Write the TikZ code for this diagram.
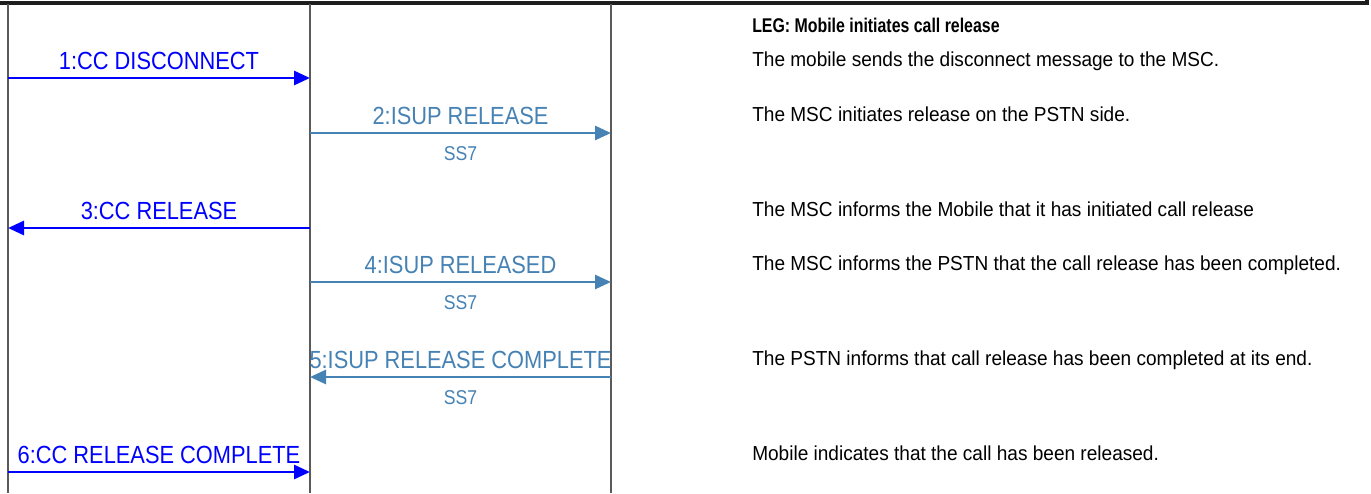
\documentclass[tikz,border=0pt]{standalone}
\usepackage{fontspec}
\setmainfont[FakeStretch=0.88]{Liberation Sans}
\newfontfamily\notefont[FakeStretch=0.94]{Liberation Sans}
\newfontfamily\headfont[FakeStretch=0.80]{Liberation Sans}
\usetikzlibrary{arrows.meta}
\definecolor{ccblue}{RGB}{0,0,255}
\definecolor{ssblue}{RGB}{70,130,180}
\definecolor{lifegray}{RGB}{90,90,90}
\definecolor{topline}{RGB}{30,30,30}
\tikzset{
  lifeline/.style={draw=lifegray, line width=1.1pt},
  ccmsg/.style={draw=ccblue, line width=2.2pt, -{Triangle[length=12pt,width=10.5pt]}},
  ssmsg/.style={draw=ssblue, line width=2pt, -{Triangle[length=12pt,width=10.5pt]}},
  cclabel/.style={anchor=base, inner sep=0pt, text=ccblue, font=\fontsize{18.6pt}{20pt}\selectfont},
  sslabel/.style={anchor=base, inner sep=0pt, text=ssblue, font=\fontsize{18.6pt}{20pt}\selectfont},
  ss7label/.style={anchor=base, inner sep=0pt, text=ssblue, font=\fontsize{15pt}{17pt}\selectfont},
  note/.style={anchor=base west, inner sep=0pt, text=black, font=\notefont\fontsize{15.2pt}{17pt}\selectfont},
  notehead/.style={anchor=base west, inner sep=0pt, text=black, font=\headfont\fontsize{14.9pt}{16pt}\selectfont\bfseries},
}
\begin{document}
\begin{tikzpicture}[x=0.75pt, y=-0.75pt]
\useasboundingbox (0,0) rectangle (1371,493);
\fill[white] (0,0) rectangle (1371,493);
% top frame line
\draw[draw=topline, line width=2.4pt] (0,3) -- (1367,3) -- (1367,0);
% lifelines
\coordinate (mtop) at (8,4);   \coordinate (mbot) at (8,493);
\coordinate (stop) at (310,4); \coordinate (sbot) at (310,493);
\coordinate (ptop) at (611,4); \coordinate (pbot) at (611,493);
\draw[lifeline] (mtop) -- (mbot);
\draw[lifeline] (stop) -- (sbot);
\draw[lifeline] (ptop) -- (pbot);
% message end points
\coordinate (m1) at (8,78);   \coordinate (s1) at (310,78);
\coordinate (s2) at (310,133); \coordinate (p2) at (611,133);
\coordinate (m3) at (8,228);  \coordinate (s3) at (310,228);
\coordinate (s4) at (310,282); \coordinate (p4) at (611,282);
\coordinate (s5) at (310,377); \coordinate (p5) at (611,377);
\coordinate (m6) at (8,472);  \coordinate (s6) at (310,472);
% messages
\draw[ccmsg] (m1) -- (s1);
\draw[ssmsg] (s2) -- (p2);
\draw[ccmsg] (s3) -- (m3);
\draw[ssmsg] (s4) -- (p4);
\draw[ssmsg] (p5) -- (s5);
\draw[ccmsg] (m6) -- (s6);
% labels
\node[cclabel] (l1) at (159,69.5) {1:CC DISCONNECT};
\node[sslabel] (l2) at (460.5,124.5) {2:ISUP RELEASE};
\node[ss7label] (n2) at (460.5,160) {SS7};
\node[cclabel] (l3) at (159,219.5) {3:CC RELEASE};
\node[sslabel] (l4) at (460.5,273.5) {4:ISUP RELEASED};
\node[ss7label] (n4) at (460.5,309) {SS7};
\begin{scope}
\clip (310.5,330) rectangle (612,372);
\node[sslabel] (l5) at (460.5,368.5) {5:ISUP RELEASE COMPLETE};
\end{scope}
\node[ss7label] (n5) at (460.5,404) {SS7};
\node[cclabel] (l6) at (159,463.5) {6:CC RELEASE COMPLETE};
% notes
\node[notehead] (h0) at (752,32) {LEG: Mobile initiates call release};
\node[note] (t1) at (752,66) {The mobile sends the disconnect message to the MSC.};
\node[note] (t2) at (752,121) {The MSC initiates release on the PSTN side.};
\node[note] (t3) at (752,216) {The MSC informs the Mobile that it has initiated call release};
\node[note] (t4) at (752,270) {The MSC informs the PSTN that the call release has been completed.};
\node[note] (t5) at (752,365) {The PSTN informs that call release has been completed at its end.};
\node[note] (t6) at (752,460) {Mobile indicates that the call has been released.};
\end{tikzpicture}
\end{document}
